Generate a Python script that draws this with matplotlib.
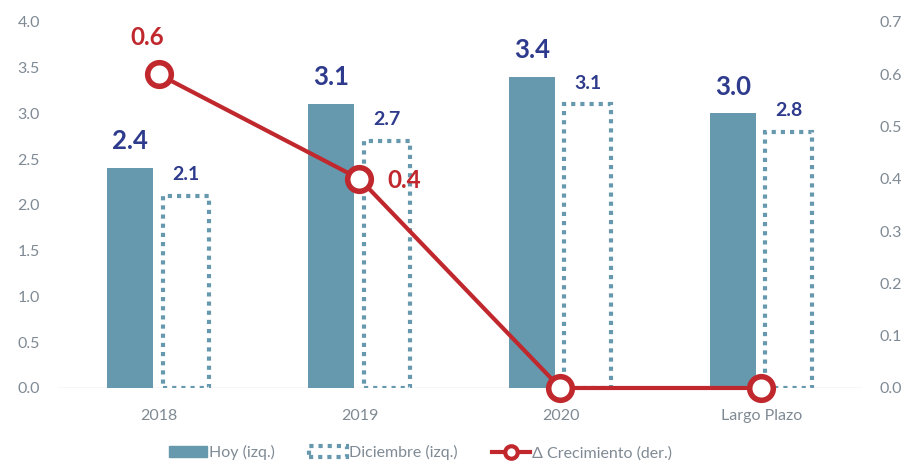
import matplotlib
matplotlib.use("Agg")
import matplotlib.pyplot as plt
from matplotlib.patches import Patch
from matplotlib.lines import Line2D
import numpy as np

categories = ["2018", "2019", "2020", "Largo Plazo"]
hoy = [2.4, 3.1, 3.4, 3.0]
diciembre = [2.1, 2.7, 3.1, 2.8]
crecimiento = [0.6, 0.4, 0.0, 0.0]
crec_labels = ["0.6", "0.4", None, None]

plt.rcParams['font.family'] = ['Lato', 'DejaVu Sans']

teal = "#6699AD"
red = "#C0282D"
navy = "#2E3A8C"
gray = "#7F8A94"

fig = plt.figure(figsize=(9.14, 4.63), dpi=100)
ax = fig.add_axes([0.0635, 0.162, 0.8795, 0.7905])
ax2 = ax.twinx()

x = np.arange(len(categories))
w = 0.23
ax.bar(x - 0.14, hoy, width=w, color=teal, zorder=2)
ax.bar(x + 0.135, diciembre, width=w, facecolor="white", edgecolor=teal,
       linewidth=3, linestyle=(0, (1, 1.2)), zorder=2)

for xi, v in zip(x, hoy):
    ax.text(xi - 0.14, v + 0.295, f"{v:.1f}", ha="center", va="center",
            fontsize=18.5, fontweight="bold", color=navy)
for xi, v in zip(x, diciembre):
    ax.text(xi + 0.135, v + 0.23, f"{v:.1f}", ha="center", va="center",
            fontsize=14, fontweight="bold", color=navy)

ax.set_xlim(-0.5, len(categories) - 0.5)
ax.set_ylim(0, 4.0)
ax.set_yticks(np.arange(0, 4.01, 0.5))
ax.set_yticklabels([f"{t:.1f}" for t in np.arange(0, 4.01, 0.5)])
ax.set_xticks(x)
ax.set_xticklabels(categories)

ax2.plot(x, crecimiento, color=red, linewidth=3, marker="o", markersize=17,
         markerfacecolor="white", markeredgecolor=red, markeredgewidth=4,
         zorder=5, clip_on=False)
ax2.set_ylim(0, 0.7)
ax2.set_yticks(np.arange(0, 0.701, 0.1))
ax2.set_yticklabels([f"{t:.1f}" for t in np.arange(0, 0.701, 0.1)])

ax2.text(x[0] - 0.055, crecimiento[0] + 0.071, crec_labels[0], ha="center", va="center",
         fontsize=17.5, fontweight="bold", color=red)
ax2.text(x[1] + 0.22, crecimiento[1] - 0.003, crec_labels[1], ha="center", va="center",
         fontsize=17.5, fontweight="bold", color=red)

for a in (ax, ax2):
    for s in a.spines.values():
        s.set_visible(False)
    a.tick_params(length=0, colors=gray, labelsize=11.5)
ax.tick_params(axis="x", pad=15)
ax.tick_params(axis="y", pad=13)
ax2.tick_params(axis="y", pad=13)
ax.axhline(0, color="#D9D9D9", linewidth=1, zorder=1)

ax.set_zorder(1)
ax2.set_zorder(2)
ax.patch.set_visible(False)

handles = [
    Patch(facecolor=teal, edgecolor=teal),
    Patch(facecolor="white", edgecolor=teal, linewidth=3, linestyle=(0, (1, 1.2))),
    Line2D([0], [0], color=red, linewidth=3, marker="o", markersize=9,
           markerfacecolor="white", markeredgecolor=red, markeredgewidth=3),
]
labels = ["Hoy (izq.)", "Diciembre (izq.)", "Δ Crecimiento (der.)"]
fig.legend(handles, labels, loc="center", bbox_to_anchor=(0.46, 0.022), ncol=3,
           frameon=False, fontsize=11.5, labelcolor=gray, handlelength=2.4,
           handletextpad=0.15, columnspacing=2.1)

fig.savefig("out.png", dpi=100)
